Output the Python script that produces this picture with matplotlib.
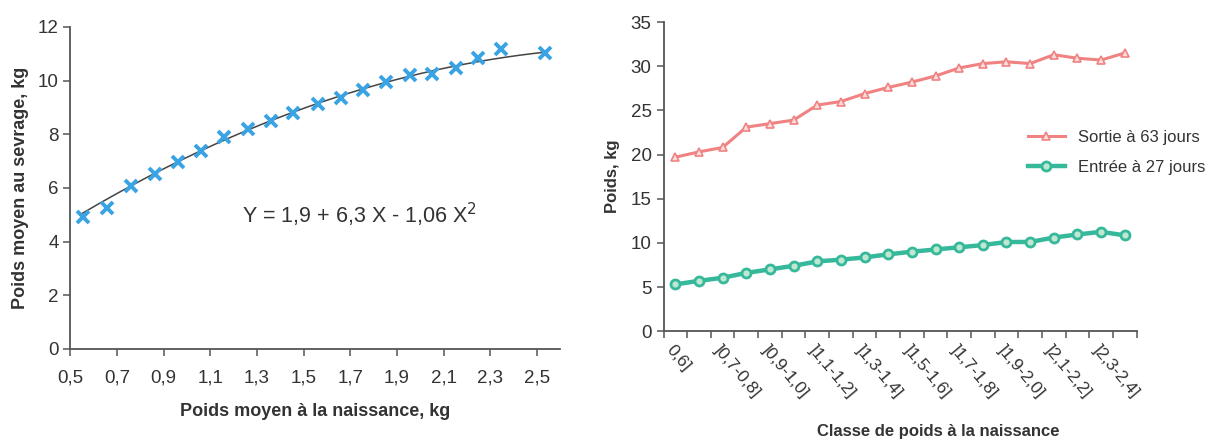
import numpy as np
import matplotlib
matplotlib.use("Agg")
import matplotlib.pyplot as plt

plt.rcParams['font.family'] = ['Liberation Sans', 'DejaVu Sans']

# left chart: birth weight vs weaning weight
naissance = [0.553, 0.659, 0.761, 0.862, 0.962, 1.058, 1.160, 1.260, 1.361, 1.456,
             1.560, 1.659, 1.756, 1.851, 1.955, 2.051, 2.153, 2.248, 2.344, 2.532]
sevrage = [4.91, 5.26, 6.06, 6.52, 6.98, 7.39, 7.88, 8.21, 8.48, 8.79,
           9.12, 9.36, 9.64, 9.93, 10.20, 10.26, 10.48, 10.85, 11.16, 11.01]
coef = [1.9, 6.3, -1.06]  # Y = a + bX + cX^2

# right chart: weight by birth class
classes = ['0,6]', ']0,6-0,7]', ']0,7-0,8]', ']0,8-0,9]', ']0,9-1,0]', ']1,0-1,1]',
           ']1,1-1,2]', ']1,2-1,3]', ']1,3-1,4]', ']1,4-1,5]', ']1,5-1,6]', ']1,6-1,7]',
           ']1,7-1,8]', ']1,8-1,9]', ']1,9-2,0]', ']2,0-2,1]', ']2,1-2,2]', ']2,2-2,3]',
           ']2,3-2,4]', '>2,4']
sortie_63 = [19.7, 20.3, 20.8, 23.1, 23.5, 23.9, 25.6, 26.0, 26.9, 27.6,
             28.2, 28.9, 29.8, 30.3, 30.5, 30.3, 31.3, 30.9, 30.7, 31.5]
entree_27 = [5.3, 5.7, 6.05, 6.6, 7.0, 7.4, 7.9, 8.1, 8.35, 8.7,
             9.0, 9.25, 9.5, 9.75, 10.1, 10.1, 10.6, 10.95, 11.25, 10.85]

txt = '#333333'
spine = '#555555'

fig = plt.figure(figsize=(12.13, 4.41), dpi=100)

##### left
ax1 = fig.add_axes([0.058, 0.209, 0.404, 0.730])
xs = np.linspace(naissance[0], naissance[-1], 200)
ax1.plot(xs, coef[0] + coef[1] * xs + coef[2] * xs ** 2, color='#444444', lw=1.1)
ax1.plot(naissance, sevrage, ls='none', marker='x', color='#3aa3e3', ms=8, mew=2.8)
ax1.set_xlim(0.5, 2.6)
ax1.set_ylim(0, 12)
ax1.set_xticks(np.arange(0.5, 2.51, 0.2))
ax1.set_xticklabels(['0,5', '0,7', '0,9', '1,1', '1,3', '1,5', '1,7', '1,9', '2,1', '2,3', '2,5'])
ax1.set_yticks(range(0, 13, 2))
ax1.text(1.74, 5.0, 'Y = 1,9 + 6,3 X - 1,06 X$^2$', fontsize=15.5, color=txt, ha='center', va='center')
ax1.set_xlabel('Poids moyen à la naissance, kg', fontsize=13, fontweight='bold', color=txt, labelpad=12)
ax1.set_ylabel('Poids moyen au sevrage, kg', fontsize=13, fontweight='bold', color=txt, labelpad=6)

##### right
ax2 = fig.add_axes([0.547, 0.249, 0.390, 0.701])
pos = np.arange(len(classes))
l1, = ax2.plot(pos, sortie_63, color='#f08282', lw=2.2, marker='^', ms=6,
               mfc='#fbdcdc', mec='#f08282', mew=1.2, label='Sortie à 63 jours')
l2, = ax2.plot(pos, entree_27, color='#36b89a', lw=3.2, marker='o', ms=6.5,
               mfc='#bfe8d2', mec='#36b89a', mew=2, label='Entrée à 27 jours')
ax2.set_xlim(-0.5, len(classes) - 0.5)
ax2.set_ylim(0, 35)
ax2.set_yticks(range(0, 36, 5))
ax2.set_xticks(np.arange(-0.5, len(classes), 1.0))
ax2.set_xticklabels([])
ax2.set_xticks(pos[::2], minor=True)
ax2.set_xticklabels(classes[::2], minor=True, rotation=-50, ha='left', va='top',
                    rotation_mode='anchor', fontsize=12.5, color=txt)
ax2.tick_params(axis='x', which='minor', length=0, pad=8)
ax2.set_xlabel('Classe de poids à la naissance', fontsize=12, fontweight='bold', color=txt)
ax2.xaxis.set_label_coords(0.58, -0.30)
ax2.set_ylabel('Poids, kg', fontsize=12, fontweight='bold', color=txt, labelpad=8)
fig.legend(handles=[l1, l2], loc='upper left', bbox_to_anchor=(0.835, 0.74),
           frameon=False, fontsize=12, handlelength=2.2, labelspacing=0.9,
           labelcolor=txt)

for ax in (ax1, ax2):
    for s in ('top', 'right'):
        ax.spines[s].set_visible(False)
    for s in ('left', 'bottom'):
        ax.spines[s].set_color(spine)
        ax.spines[s].set_linewidth(1.3)
    ax.tick_params(which='major', direction='out', length=5, width=1.1, color=spine,
                   labelsize=13.5, labelcolor=txt)
ax1.tick_params(axis='x', pad=10)

fig.savefig('out.png', dpi=100)
